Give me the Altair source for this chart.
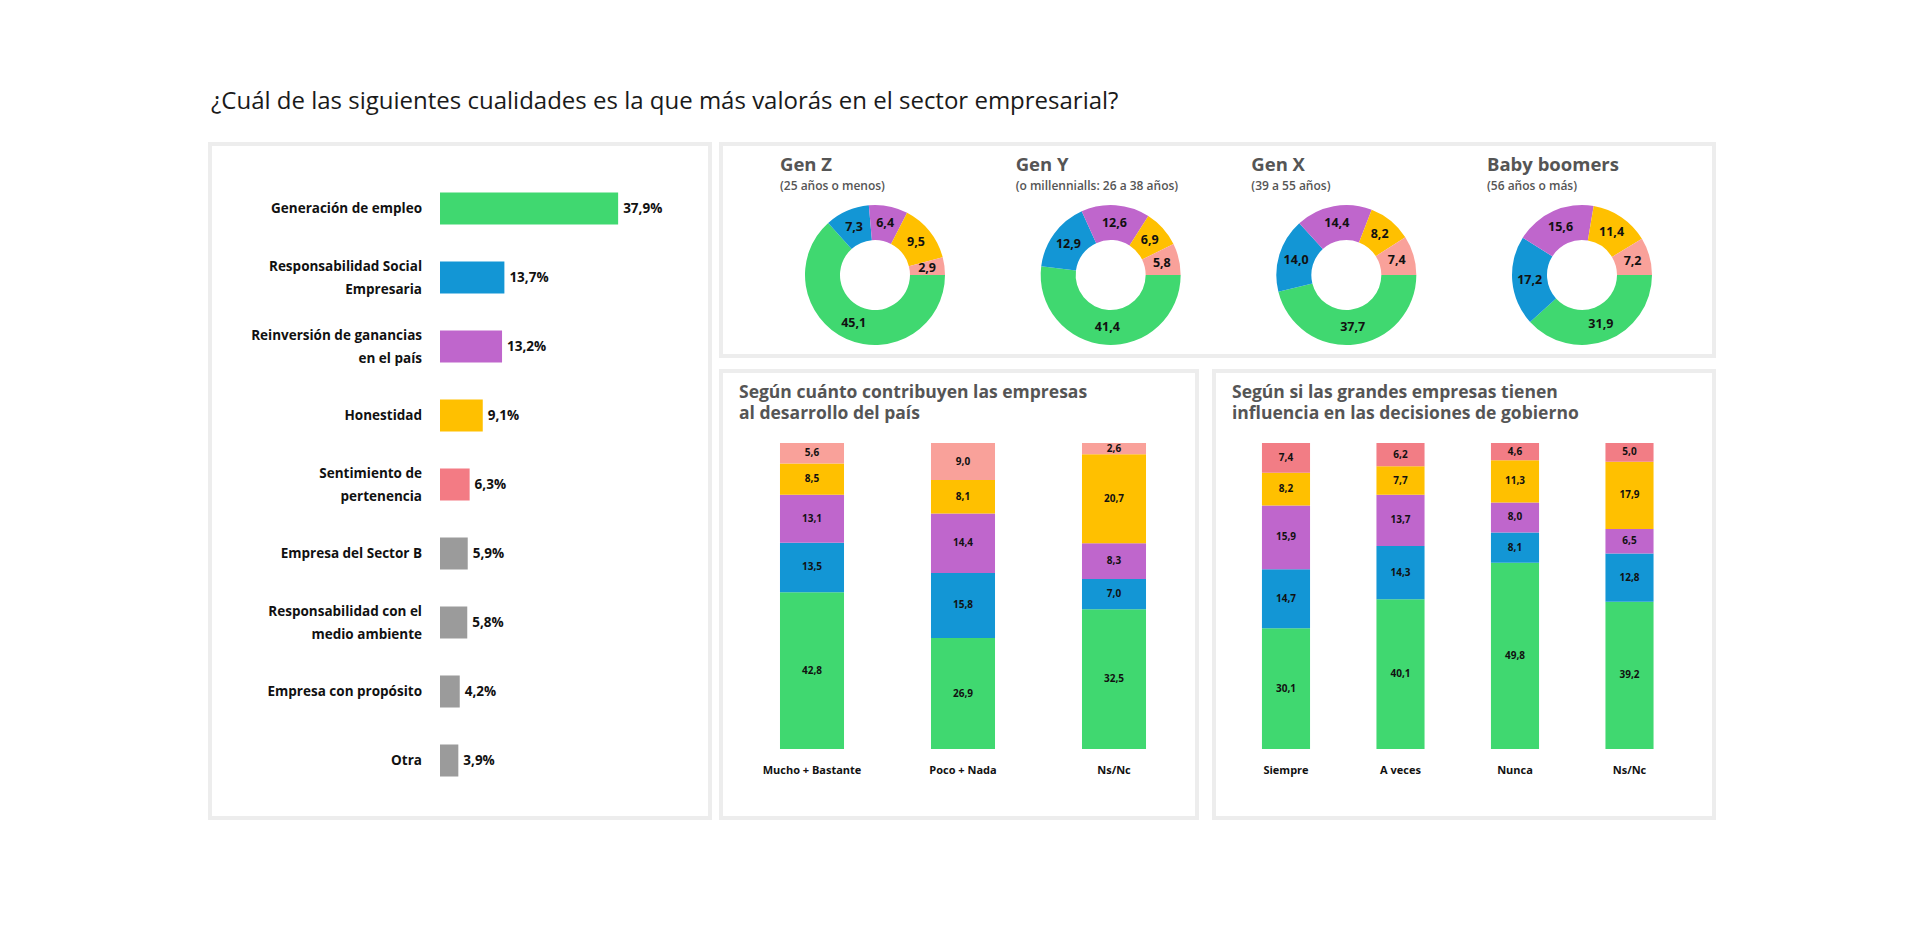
import math
import altair as alt
import pandas as pd

FONT = "Open Sans"

# ---------------- data ----------------
title_text = "¿Cuál de las siguientes cualidades es la que más valorás en el sector empresarial?"

left_cats = [
    "Generación de empleo",
    "Responsabilidad Social\nEmpresaria",
    "Reinversión de ganancias\nen el país",
    "Honestidad",
    "Sentimiento de\npertenencia",
    "Empresa del Sector B",
    "Responsabilidad con el\nmedio ambiente",
    "Empresa con propósito",
    "Otra",
]
left_vals = [37.9, 13.7, 13.2, 9.1, 6.3, 5.9, 5.8, 4.2, 3.9]
left_colors = ["#40d870", "#1396d5", "#bf66cc", "#ffc000", "#f37b84",
               "#9b9b9b", "#9b9b9b", "#9b9b9b", "#9b9b9b"]

qualities = ["Generación de empleo", "Responsabilidad Social Empresaria",
             "Reinversión de ganancias en el país", "Honestidad",
             "Sentimiento de pertenencia"]

gens = ["Gen Z", "Gen Y", "Gen X", "Baby boomers"]
gen_subtitles = ["(25 años o menos)", "(o millennialls: 26 a 38 años)",
                 "(39 a 55 años)", "(56 años o más)"]
gen_z = [45.1, 7.3, 6.4, 9.5, 2.9]
gen_y = [41.4, 12.9, 12.6, 6.9, 5.8]
gen_x = [37.7, 14.0, 14.4, 8.2, 7.4]
boomers = [31.9, 17.2, 15.6, 11.4, 7.2]
donut_colors = ["#40d870", "#1396d5", "#bf66cc", "#ffc000", "#f9a19a"]

contrib_title = "Según cuánto contribuyen las empresas\nal desarrollo del país"
contrib_cats = ["Mucho + Bastante", "Poco + Nada", "Ns/Nc"]
contrib_green = [42.8, 26.9, 32.5]
contrib_blue = [13.5, 15.8, 7.0]
contrib_purple = [13.1, 14.4, 8.3]
contrib_yellow = [8.5, 8.1, 20.7]
contrib_pink = [5.6, 9.0, 2.6]
contrib_colors = ["#40d870", "#1396d5", "#bf66cc", "#ffc000", "#f9a19a"]

infl_title = "Según si las grandes empresas tienen\ninfluencia en las decisiones de gobierno"
infl_cats = ["Siempre", "A veces", "Nunca", "Ns/Nc"]
infl_green = [30.1, 40.1, 49.8, 39.2]
infl_blue = [14.7, 14.3, 8.1, 12.8]
infl_purple = [15.9, 13.7, 8.0, 6.5]
infl_yellow = [8.2, 7.7, 11.3, 17.9]
infl_pink = [7.4, 6.2, 4.6, 5.0]
infl_colors = ["#40d870", "#1396d5", "#bf66cc", "#ffc000", "#f27d85"]


def fmt(v):
    return f"{v:.1f}".replace(".", ",")


GRAY_T = "#555555"

# ---------------- left panel ----------------
left_df = pd.DataFrame({
    "cat": left_cats,
    "value": left_vals,
    "label": [fmt(v) + "%" for v in left_vals],
    "lines": [c.count("\n") + 1 for c in left_cats],
})
ly = alt.Y("cat:N", scale=alt.Scale(domain=left_cats, range=[30, 651],
                                    paddingInner=0.536, paddingOuter=0.268),
           axis=None)
lx = alt.X("value:Q", stack=None,
           scale=alt.Scale(domain=[0, 40], range=[230, 418]), axis=None)
left_base = alt.Chart(left_df)
left_bars = left_base.mark_bar().encode(
    x=lx, y=ly,
    color=alt.Color("cat:N", scale=alt.Scale(domain=left_cats, range=left_colors), legend=None),
)
left_vals_txt = left_base.mark_text(align="left", baseline="middle", dx=5, fontSize=13.5,
                                    fontWeight="bold", font=FONT, color="#111").encode(
    x=lx, y=ly, text="label:N")
lab_style = dict(align="right", baseline="middle", fontSize=13.5, fontWeight="bold",
                 font=FONT, color="#111", lineBreak="\n", lineHeight=23)
left_cat_txt1 = left_base.transform_filter("datum.lines == 1").mark_text(**lab_style).encode(
    x=alt.value(212), y=ly, text="cat:N")
left_cat_txt2 = left_base.transform_filter("datum.lines == 2").mark_text(
    dy=-11, **lab_style).encode(x=alt.value(212), y=ly, text="cat:N")
left = alt.layer(left_bars, left_vals_txt, left_cat_txt1, left_cat_txt2).properties(
    width=500, height=674)

# ---------------- donut panel ----------------
rows = []
for gi, (g, vals) in enumerate(zip(gens, [gen_z, gen_y, gen_x, boomers])):
    for qi, (q, v) in enumerate(zip(qualities, vals)):
        rows.append({"gen": g, "pos": gi, "quality": q, "order": qi,
                     "value": v, "label": fmt(v)})
donut_df = pd.DataFrame(rows)
gen_df = pd.DataFrame({"gen": gens, "pos": list(range(4)), "sub": gen_subtitles})

dx_enc = alt.X("pos:Q", stack=None,
               scale=alt.Scale(domain=[0, 3], range=[154, 861]), axis=None)
theta_scale = alt.Scale(domain=[0, 1], range=[math.pi / 2, math.pi / 2 + 2 * math.pi])

donut_base = alt.Chart(donut_df).transform_joinaggregate(
    total="sum(value)", groupby=["gen"]
).transform_calculate(
    frac="datum.value / datum.total"
).transform_stack(
    stack="frac", groupby=["gen"], as_=["s0", "s1"], sort=[alt.SortField("order")]
).transform_calculate(
    mid="(datum.s0 + datum.s1) / 2"
)
arcs = donut_base.mark_arc(innerRadius=35, outerRadius=70).encode(
    x=dx_enc, y=alt.value(131),
    theta=alt.Theta("s0:Q", stack=None, scale=theta_scale), theta2="s1:Q",
    color=alt.Color("quality:N", scale=alt.Scale(domain=qualities, range=donut_colors), legend=None),
)
arc_txt = donut_base.mark_text(radius=52.5, fontSize=12.5, fontWeight="bold", font=FONT,
                               color="#111", baseline="middle").encode(
    x=dx_enc, y=alt.value(131),
    theta=alt.Theta("mid:Q", stack=None, scale=theta_scale),
    text="label:N",
)
gen_title = alt.Chart(gen_df).mark_text(align="left", baseline="alphabetic", dx=-95,
                                        fontSize=18.5, fontWeight="bold", font=FONT,
                                        color=GRAY_T).encode(
    x=dx_enc, y=alt.value(27), text="gen:N")
gen_sub = alt.Chart(gen_df).mark_text(align="left", baseline="alphabetic", dx=-95,
                                      fontSize=12, fontWeight=600, font=FONT,
                                      color=GRAY_T).encode(
    x=dx_enc, y=alt.value(46), text="sub:N")
donuts = alt.layer(arcs, arc_txt, gen_title, gen_sub).properties(width=993, height=212)


# ---------------- stacked panels ----------------
def stacked_panel(cats, series, colors, title, width, x_range, pad_inner):
    rws = []
    for qi, (q, vals) in enumerate(zip(qualities, series)):
        for c, v in zip(cats, vals):
            rws.append({"cat": c, "quality": q, "order": qi, "value": v, "label": fmt(v)})
    df = pd.DataFrame(rws)
    base = alt.Chart(df).transform_joinaggregate(
        total="sum(value)", groupby=["cat"]
    ).transform_calculate(
        frac="datum.value / datum.total"
    ).transform_stack(
        stack="frac", groupby=["cat"], as_=["s0", "s1"], sort=[alt.SortField("order")]
    ).transform_calculate(
        mid="(datum.s0 + datum.s1) / 2"
    )
    xe = alt.X("cat:N", scale=alt.Scale(domain=cats, range=x_range,
                                        paddingInner=pad_inner, paddingOuter=pad_inner / 2),
               axis=None)
    ys = alt.Scale(domain=[0, 1], range=[378, 72])
    bars = base.mark_bar().encode(
        x=xe, y=alt.Y("s0:Q", stack=None, scale=ys, axis=None), y2="s1:Q",
        color=alt.Color("quality:N", scale=alt.Scale(domain=qualities, range=colors), legend=None),
    )
    vtxt = base.mark_text(fontSize=10, fontWeight="bold", font=FONT, color="#111",
                          baseline="middle").encode(
        x=xe, y=alt.Y("mid:Q", stack=None, scale=ys, axis=None), text="label:N")
    cat_df = pd.DataFrame({"cat": cats})
    ctxt = alt.Chart(cat_df).mark_text(fontSize=11, fontWeight="bold", font=FONT,
                                       color="#111", baseline="middle").encode(
        x=xe, y=alt.value(400), text="cat:N")
    ttl = alt.Chart(pd.DataFrame({"t": [title]})).mark_text(
        align="left", baseline="alphabetic", fontSize=17.5, fontWeight="bold", font=FONT,
        color=GRAY_T, lineBreak="\n", lineHeight=21).encode(
        x=alt.value(18), y=alt.value(27), text="t:N")
    return alt.layer(bars, vtxt, ctxt, ttl).properties(width=width, height=447)


contrib = stacked_panel(contrib_cats,
                        [contrib_green, contrib_blue, contrib_purple, contrib_yellow, contrib_pink],
                        contrib_colors, contrib_title, 476, [15.5, 468.5], 0.576)
infl = stacked_panel(infl_cats,
                     [infl_green, infl_blue, infl_purple, infl_yellow, infl_pink],
                     infl_colors, infl_title, 500, [14.75, 472.75], 0.58)

bottom_row = alt.hconcat(contrib, infl, spacing=13).resolve_scale(
    color="independent", x="independent", y="independent")
right_col = alt.vconcat(donuts, bottom_row, spacing=11).resolve_scale(
    color="independent", x="independent", y="independent")

chart = alt.hconcat(left, right_col, spacing=7).resolve_scale(
    color="independent", x="independent", y="independent"
).properties(
    title=alt.TitleParams(text=title_text, anchor="start", fontSize=24, font=FONT,
                          fontWeight="normal", color="#1a1a1a", offset=28, dx=3),
    padding={"left": 200, "top": 82, "right": 5, "bottom": 5},
    background="white",
).configure_view(
    fill="white", stroke="#ededed", strokeWidth=4
)

chart.save("out.html", embed_options={"renderer": "svg", "actions": False})
